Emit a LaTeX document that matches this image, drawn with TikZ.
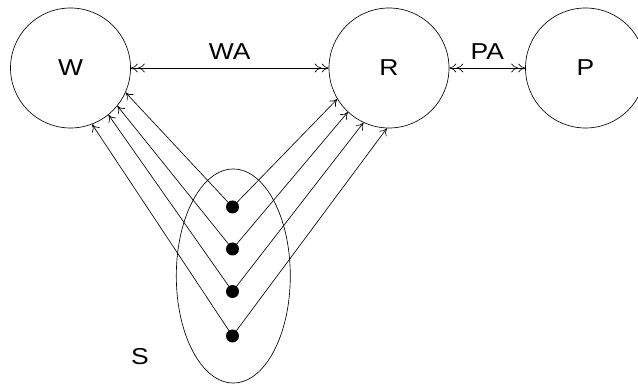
\documentclass[tikz,border=0pt]{standalone}
\usepackage{fontspec}
\setmainfont{Liberation Sans}
\newfontfamily\lblfont[FakeStretch=1.15]{Liberation Sans}
\usetikzlibrary{arrows.meta,shapes.geometric}
\begin{document}
\begin{tikzpicture}[x=1pt,y=-1pt,line width=0.65pt,
  >={To[length=7pt,width=9pt]},
  big/.style={draw,circle,minimum size=120pt,inner sep=0pt,font=\lblfont\fontsize{23}{27}\selectfont},
  lbl/.style={font=\lblfont\fontsize{23}{27}\selectfont,inner sep=0pt},
  dot/.style={circle,fill=black,minimum size=13pt,inner sep=0pt}]
\useasboundingbox (0,0) rectangle (638,387);
\node[big] (W) at (70.5,68) {W};
\node[big] (R) at (389,68) {R};
\node[big] (P) at (585.5,68) {P};
\node[draw,ellipse,minimum width=114pt,minimum height=214pt,inner sep=0pt] (S) at (233.3,276) {};
\node[lbl] (Sl) at (140,357) {S};
\node[dot] (d1) at (232.5,207) {};
\node[dot] (d2) at (232.5,249) {};
\node[dot] (d3) at (232.5,291.5) {};
\node[dot] (d4) at (232.5,336) {};
\draw[<<->>] (W.east) -- node[lbl,above=8pt] (WA) {WA} (R.west);
\draw[<<->>] (R.east) -- node[lbl,above=8pt] (PA) {PA} (P.west);
\draw[->] (d1.center) -- (W.-24.6);
\draw[->] (d2.center) -- (W.-39.4);
\draw[->] (d3.center) -- (W.-51.8);
\draw[->] (d4.center) -- (W.-69);
\draw[->] (d1.center) -- (R.211.4);
\draw[->] (d2.center) -- (R.227.7);
\draw[->] (d3.center) -- (R.245.6);
\draw[->] (d4.center) -- (R.268.3);
\end{tikzpicture}
\end{document}
